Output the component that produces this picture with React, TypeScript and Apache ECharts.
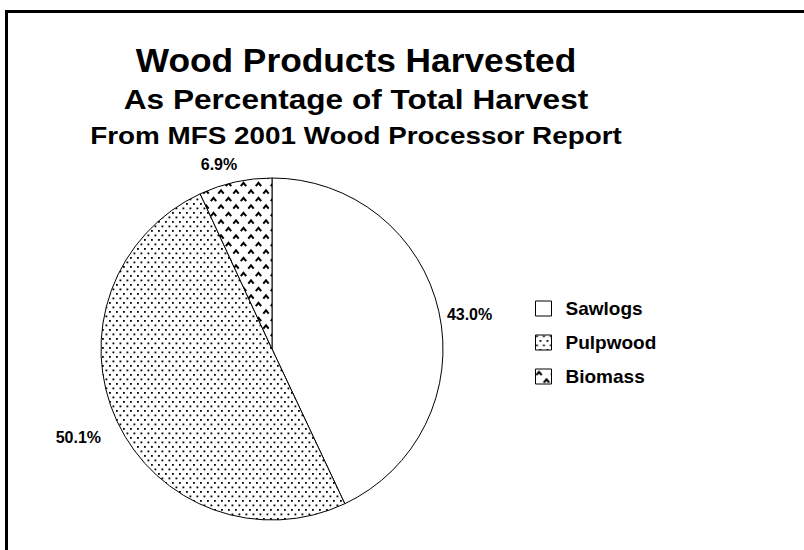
import React, { useEffect, useRef } from 'react';
import * as echarts from 'echarts';

const titleLines = [
  'Wood Products Harvested',
  'As Percentage of Total Harvest',
  'From MFS 2001 Wood Processor Report',
];
const categories = ['Sawlogs', 'Pulpwood', 'Biomass'];
const shares = [43.0, 50.1, 6.9];

const FONT = '"Liberation Sans", Arial, Helvetica, sans-serif';

// label nudges (dx, dy) relative to the default outside position
const labelShift: number[][] = [
  [2, 3],
  [-10, 16],
  [8, -18],
];

function svgTile(w: number, h: number, body: string) {
  const svg =
    `<svg xmlns="http://www.w3.org/2000/svg" width="${w}" height="${h}" viewBox="0 0 ${w} ${h}">` +
    `<rect width="${w}" height="${h}" fill="#ffffff"/>${body}</svg>`;
  return {
    image: 'data:image/svg+xml;charset=utf-8,' + encodeURIComponent(svg),
    repeat: 'repeat',
    imageWidth: w,
    imageHeight: h,
  };
}

const dotsTile = svgTile(
  7,
  9,
  '<rect x="0.5" y="0.5" width="1.8" height="1.8" fill="#000"/>' +
    '<rect x="4" y="5" width="1.8" height="1.8" fill="#000"/>'
);

const chevronTile = svgTile(
  15,
  15,
  '<path d="M0.8 6.2 L3.5 2.8 L6.2 6.2" fill="none" stroke="#000" stroke-width="2"/>' +
    '<path d="M8.3 13.7 L11 10.3 L13.7 13.7" fill="none" stroke="#000" stroke-width="2"/>'
);

const fills: any[] = ['#ffffff', dotsTile, chevronTile];

export default function App() {
  const ref = useRef<HTMLDivElement>(null);

  useEffect(() => {
    document.body.style.margin = '0';
    if (!ref.current) return;
    const chart = echarts.init(ref.current, undefined, { renderer: 'svg' });

    const titleFonts = [
      { size: 33, y: 60, sx: 1.07 },
      { size: 27, y: 99, sx: 1.17 },
      { size: 24, y: 136, sx: 1.16 },
    ];

    chart.setOption({
      animation: false,
      backgroundColor: '#ffffff',
      graphic: [
        { type: 'rect', shape: { x: 5, y: 10, width: 3, height: 540 }, style: { fill: '#000' }, silent: true },
        { type: 'rect', shape: { x: 5, y: 10, width: 799, height: 3 }, style: { fill: '#000' }, silent: true },
        ...titleLines.map((t, i) => ({
          type: 'text',
          x: 356,
          y: titleFonts[i].y,
          scaleX: titleFonts[i].sx,
          silent: true,
          style: {
            text: t,
            fill: '#000',
            font: `bold ${titleFonts[i].size}px ${FONT}`,
            textAlign: 'center',
            textVerticalAlign: 'middle',
            align: 'center',
            verticalAlign: 'middle',
          },
        })),
      ],
      legend: {
        orient: 'vertical',
        left: 535,
        top: 299,
        padding: 0,
        icon: 'rect',
        itemWidth: 16,
        itemHeight: 15,
        itemGap: 15,
        selectedMode: false,
        data: categories,
        itemStyle: { borderColor: '#000', borderWidth: 1 },
        textStyle: {
          fontFamily: FONT,
          fontWeight: 'bold',
          fontSize: 19,
          lineHeight: 16,
          color: '#000',
          padding: [0, 0, 0, 9],
        },
      },
      series: [
        {
          type: 'pie',
          center: [272, 349],
          radius: 171,
          startAngle: 90,
          clockwise: true,
          avoidLabelOverlap: false,
          silent: true,
          itemStyle: { borderColor: '#000', borderWidth: 1 },
          emphasis: { disabled: true },
          label: {
            show: true,
            position: 'outside',
            formatter: (p: any) => Number(p.value).toFixed(1) + '%',
            fontFamily: FONT,
            fontWeight: 'bold',
            fontSize: 16,
            color: '#000',
            distanceToLabelLine: 6,
          },
          labelLine: { show: false, length: 0, length2: 0 },
          labelLayout: (params: any) => ({
            dx: labelShift[params.dataIndex][0],
            dy: labelShift[params.dataIndex][1],
          }),
          data: categories.map((name, i) => ({
            name,
            value: shares[i],
            itemStyle: { color: fills[i] },
          })),
        },
      ],
    });

    return () => chart.dispose();
  }, []);

  return <div ref={ref} style={{ width: 804, height: 550 }} />;
}
